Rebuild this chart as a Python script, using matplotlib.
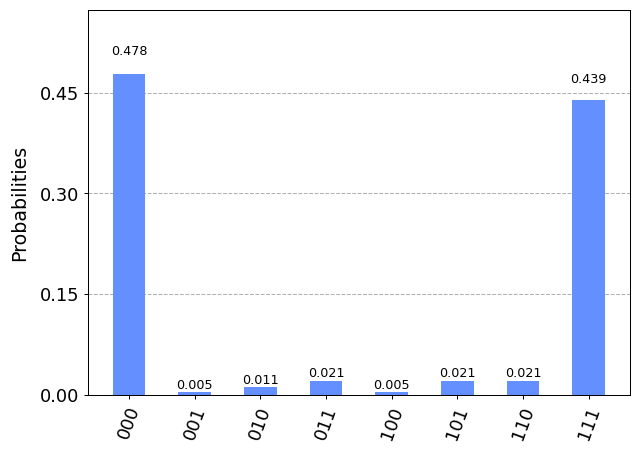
import matplotlib
matplotlib.use("Agg")
import matplotlib.pyplot as plt

states = ['000', '001', '010', '011', '100', '101', '110', '111']
probs = [0.478, 0.005, 0.011, 0.021, 0.005, 0.021, 0.021, 0.439]
yticks = [0.0, 0.15, 0.30, 0.45]

fig = plt.figure(figsize=(7, 4.99), dpi=91.43)
ax = fig.add_axes([0.1375, 0.134, 0.8465, 0.844])

x = list(range(len(states)))
rects = ax.bar(x, probs, width=0.5, color='#648fff', zorder=2)

# value labels above each bar
for rect, p in zip(rects, probs):
    ax.text(rect.get_x() + rect.get_width() / 2., 1.05 * p, '%.3f' % p,
            ha='center', va='bottom', fontsize=10, zorder=3)

ax.set_xticks(x)
ax.set_xticklabels(states, rotation=70, fontsize=14)
ax.set_ylim(0, max(probs) * 1.2)
ax.set_yticks(yticks)
ax.set_yticklabels(['%.2f' % t for t in yticks], fontsize=14)
ax.set_ylabel('Probabilities', fontsize=15, labelpad=8)
ax.yaxis.grid(True, linestyle='--', color='#b0b0b0', linewidth=0.8, zorder=0)
ax.set_axisbelow(True)

fig.savefig('out.png', dpi=91.43)
